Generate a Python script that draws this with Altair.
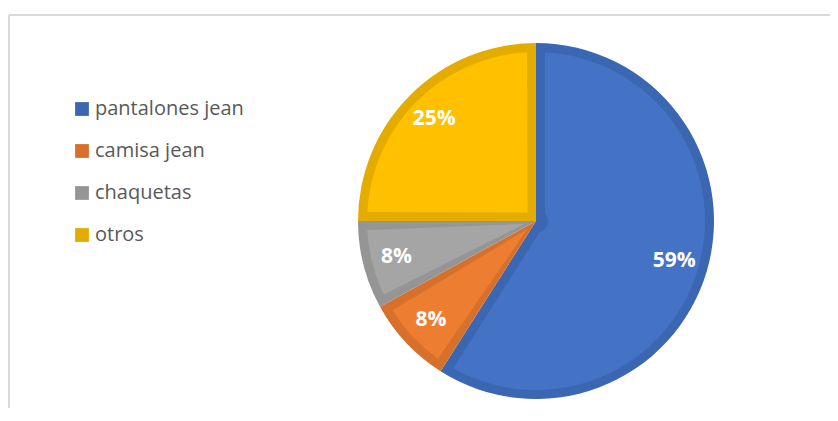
import altair as alt
import pandas as pd

categories = ["pantalones jean", "camisa jean", "chaquetas", "otros"]
values = [59, 8, 8, 25]
labels = ["59%", "8%", "8%", "25%"]
fill_colors = ["#4472C4", "#ED7D31", "#A5A5A5", "#FFC000"]
border_colors = ["#3B66B2", "#D6702B", "#959595", "#E5AC00"]

df = pd.DataFrame({
    "categoria": categories,
    "valor": values,
    "etiqueta": labels,
    "orden": list(range(len(categories))),
})

CX, CY, R, INSET = 527, 213, 178, 9

base = alt.Chart(df).encode(
    theta=alt.Theta("valor:Q", stack=True),
    order=alt.Order("orden:Q", sort="ascending"),
    x=alt.value(CX),
    y=alt.value(CY),
)

outer = base.mark_arc(radius=R, stroke=None).encode(
    color=alt.Color(
        "categoria:N",
        scale=alt.Scale(domain=categories, range=border_colors),
        sort=categories,
        legend=alt.Legend(
            title=None,
            orient="none",
            legendX=63,
            legendY=91,
            symbolType="square",
            symbolSize=190,
            symbolStrokeWidth=0,
            symbolOpacity=1,
            labelFont="Open Sans",
            labelFontSize=20,
            labelColor="#595959",
            labelOffset=3,
            rowPadding=22,
            padding=0,
        ),
    )
)

inner = base.mark_arc(radius=R - INSET, radius2=12, padAngle=2 * INSET / (R - INSET)).encode(
    fill=alt.Fill(
        "categoria:N",
        scale=alt.Scale(domain=categories, range=fill_colors),
        legend=None,
    )
)

text = base.mark_text(
    radius=144, font="Open Sans", fontSize=21, fontWeight="bold", color="white"
).encode(text="etiqueta:N")

frame_top = alt.Chart(df).mark_rule(color="#D9D9D9", strokeWidth=2).encode(
    x=alt.value(0), x2=alt.value(822), y=alt.value(7)
)
frame_left = alt.Chart(df).mark_rule(color="#D9D9D9", strokeWidth=2).encode(
    x=alt.value(0), y=alt.value(7), y2=alt.value(400)
)

chart = (
    alt.layer(frame_top, frame_left, outer, inner, text)
    .properties(width=822, height=400, padding=0,
                autosize=alt.AutoSizeParams(type="fit", contains="padding"))
    .configure_view(stroke=None)
)

chart.save("out.html", embed_options={"renderer": "svg", "actions": False})
